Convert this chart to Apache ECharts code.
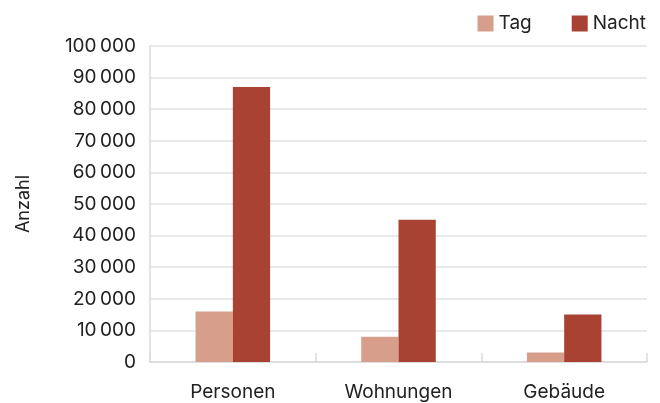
<!DOCTYPE html>
<html>
<head>
<meta charset="utf-8">
<script src="https://cdn.jsdelivr.net/npm/echarts@6/dist/echarts.min.js"></script>
<style>
  html, body { margin: 0; padding: 0; background: #fff; }
  #chart { width: 660px; height: 403px; }
</style>
</head>
<body>
<div id="chart"></div>
<script>
// Categories and values
const categories = ['Personen', 'Wohnungen', 'Gebäude'];
const tagValues = [16000, 8000, 3000];
const nachtValues = [87000, 45000, 15000];
const seriesNames = ['Tag', 'Nacht'];
const yAxisTitle = 'Anzahl';

const FONT = 'Inter, Roboto, sans-serif';

function fmt(v) {
  return String(v).replace(/\B(?=(\d{3})+(?!\d))/g, '\u2009');
}

const chart = echarts.init(document.getElementById('chart'), null, { renderer: 'canvas' });
chart.setOption({
  animation: false,
  textStyle: { fontFamily: FONT },
  grid: { left: 150, right: 13, top: 46, bottom: 41 },
  legend: {
    data: seriesNames,
    right: 9,
    top: 9,
    itemWidth: 16,
    itemHeight: 16,
    itemGap: 40,
    icon: 'rect',
    textStyle: { fontFamily: FONT, fontSize: 19, color: '#222' }
  },
  xAxis: {
    type: 'category',
    data: categories,
    axisLine: { lineStyle: { color: '#dcdada', width: 1.5 } },
    axisTick: { show: true, inside: true, length: 9, lineStyle: { color: '#dcdada', width: 1.5 } },
    axisLabel: { fontFamily: FONT, fontSize: 19, color: '#222', margin: 21 }
  },
  yAxis: {
    type: 'value',
    min: 0,
    max: 100000,
    interval: 10000,
    name: yAxisTitle,
    nameLocation: 'middle',
    nameGap: 117,
    nameTextStyle: { fontFamily: FONT, fontSize: 18, color: '#222' },
    axisLine: { show: true, lineStyle: { color: '#dcdada', width: 1.5 } },
    axisTick: { show: false },
    axisLabel: { fontFamily: FONT, fontSize: 19, color: '#222', margin: 14, formatter: fmt },
    splitLine: { lineStyle: { color: '#e3e0e0', width: 1.5 } }
  },
  series: [
    {
      name: seriesNames[0],
      type: 'bar',
      data: tagValues,
      itemStyle: { color: '#d79e8b' },
      barGap: '0%',
      barCategoryGap: '55%'
    },
    {
      name: seriesNames[1],
      type: 'bar',
      data: nachtValues,
      itemStyle: { color: '#a84232' },
      barGap: '0%',
      barCategoryGap: '55%'
    }
  ]
});
</script>
</body>
</html>
